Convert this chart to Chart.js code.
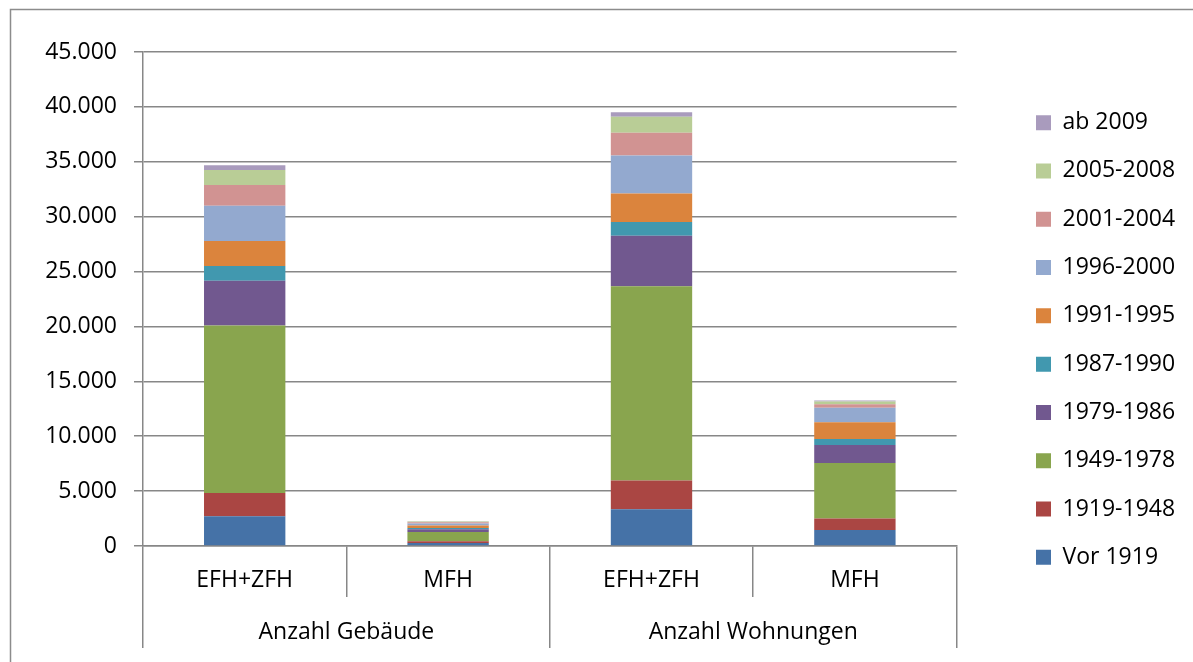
<!DOCTYPE html>
<html>
<head>
<meta charset="utf-8">
<script src="https://cdn.jsdelivr.net/npm/chart.js@4/dist/chart.umd.min.js"></script>
<style>
  html, body { margin: 0; padding: 0; background: #ffffff; }
  #wrap { position: relative; width: 1193px; height: 662px; }
</style>
</head>
<body>
<div id="wrap"><canvas id="c" width="1193" height="662"></canvas></div>
<script>
// ---- data ----
const categories = ['EFH+ZFH', 'MFH', 'EFH+ZFH', 'MFH'];
const groups = ['Anzahl Gebäude', 'Anzahl Wohnungen'];
const periods = ['Vor 1919', '1919-1948', '1949-1978', '1979-1986', '1987-1990',
                 '1991-1995', '1996-2000', '2001-2004', '2005-2008', 'ab 2009'];
const vor1919   = [2700,  270,  3350, 1460];
const p1919_48  = [2130,  160,  2620, 1040];
const p1949_78  = [15260, 850, 17700, 5060];
const p1979_86  = [4070,  250,  4600, 1645];
const p1987_90  = [1340,  110,  1250,  550];
const p1991_95  = [2280,  220,  2590, 1520];
const p1996_00  = [3220,  190,  3470, 1310];
const p2001_04  = [1890,  110,  2070,  335];
const p2005_08  = [1370,   70,  1460,  245];
const ab2009    = [425,    30,   400,   90];
const yTicks = [0, 5000, 10000, 15000, 20000, 25000, 30000, 35000, 40000, 45000];

// ---- styles ----
const colors = ['#4572A7', '#AA4643', '#89A54E', '#71588F', '#4198AF',
                '#DB843D', '#93A9CF', '#D19392', '#B9CD96', '#A99BBD'];
const seriesValues = [vor1919, p1919_48, p1949_78, p1979_86, p1987_90,
                      p1991_95, p1996_00, p2001_04, p2005_08, ab2009];
const GRID = '#878787';

Chart.defaults.font.family = "'Open Sans', 'Noto Sans', sans-serif";
Chart.defaults.font.size = 23;
Chart.defaults.color = '#000000';

const fmt = v => String(v).replace(/\B(?=(\d{3})+(?!\d))/g, '.');

const frame = {
  id: 'frame',
  beforeDraw(chart) {
    const ctx = chart.ctx;
    ctx.save();
    ctx.strokeStyle = '#8c8c8c';
    ctx.lineWidth = 1.5;
    ctx.beginPath();
    ctx.moveTo(10.5, 662);
    ctx.lineTo(10.5, 9.5);
    ctx.lineTo(1193, 9.5);
    ctx.stroke();
    ctx.restore();
  }
};

const legendShift = {
  id: 'legendShift',
  afterLayout(chart) {
    const lg = chart.legend;
    if (!lg) return;
    const dx = 1036 - (lg.left + lg.options.labels.padding);
    const dy = -10;
    lg.left += dx; lg.right += dx;
    lg.top += dy; lg.bottom += dy;
  }
};

new Chart(document.getElementById('c'), {
  type: 'bar',
  data: {
    labels: categories,
    datasets: periods.map((p, i) => ({
      label: p,
      data: seriesValues[i],
      backgroundColor: colors[i],
      borderWidth: 0,
      categoryPercentage: 1.0,
      barPercentage: 0.40,
      xAxisID: 'x',
      yAxisID: 'y'
    }))
  },
  plugins: [frame, legendShift],
  options: {
    responsive: false,
    animation: false,
    devicePixelRatio: 1,
    layout: { padding: { top: 52, bottom: 14, left: 0, right: 62 } },
    plugins: {
      title: { display: false },
      tooltip: { enabled: false },
      legend: {
        display: true,
        position: 'right',
        reverse: true,
        labels: {
          boxWidth: 15,
          boxHeight: 15,
          padding: 25.3,
          font: { size: 23 },
          color: '#000000'
        }
      }
    },
    scales: {
      x: {
        type: 'category',
        stacked: true,
        position: 'bottom',
        weight: 0,
        offset: true,
        grid: {
          offset: true,
          drawOnChartArea: false,
          drawTicks: true,
          tickLength: 51,
          color: GRID,
          lineWidth: 1.5
        },
        border: { display: true, color: GRID, width: 1.5 },
        ticks: { padding: -30, maxRotation: 0, autoSkip: false, font: { size: 23 } },
        afterFit: s => { s.height = 51; }
      },
      x2: {
        type: 'category',
        labels: groups,
        position: 'bottom',
        weight: 1,
        offset: true,
        grid: {
          offset: true,
          drawOnChartArea: false,
          drawTicks: true,
          tickLength: 51,
          color: GRID,
          lineWidth: 1.5
        },
        border: { display: false },
        ticks: { padding: -29, maxRotation: 0, autoSkip: false, font: { size: 23 } },
        afterFit: s => { s.height = 51; }
      },
      y: {
        stacked: true,
        min: 0,
        max: 45000,
        afterBuildTicks: s => { s.ticks = yTicks.map(v => ({ value: v })); },
        grid: {
          color: GRID,
          lineWidth: 1.5,
          drawTicks: true,
          tickLength: 9
        },
        border: { display: true, color: GRID, width: 1.5 },
        ticks: {
          padding: 17,
          callback: v => fmt(v),
          font: { size: 23 }
        },
        afterFit: s => { s.width = 143; }
      }
    }
  }
});
</script>
</body>
</html>
